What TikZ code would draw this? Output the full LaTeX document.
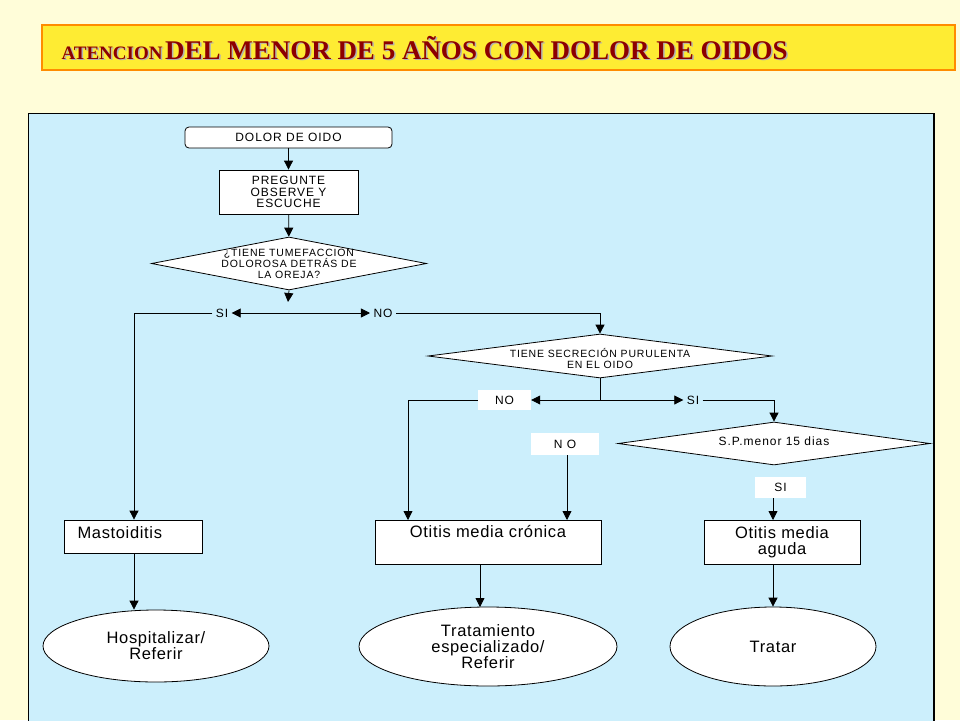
\documentclass[tikz,border=0pt]{standalone}
\usepackage{fontspec}
\setmainfont{Liberation Sans}
\newfontfamily\ttl{Liberation Serif}
\newfontfamily\smf[LetterSpace=8]{Liberation Sans}
\newfontfamily\bgf[LetterSpace=4]{Liberation Sans}
\usetikzlibrary{arrows.meta,shapes.geometric}
\begin{document}
\begin{tikzpicture}[x=1pt,y=-1pt,
  ln/.style={draw=black,line width=0.8pt},
  ar/.style={ln,-{Triangle[length=9pt,width=9pt]}},
  box/.style={draw=black,fill=white,line width=0.8pt,inner sep=0pt},
  sm/.style={font=\smf\fontsize{12}{11.5}\selectfont,align=center},
  big/.style={font=\bgf\fontsize{16.5}{16}\selectfont,align=center},
  lbl/.style={fill=white,inner sep=0pt,font=\smf\fontsize{12}{11.5}\selectfont}]
\useasboundingbox (0,0) rectangle (960,720);
\fill[yellow!15!white] (0,0) rectangle (960,720);
\draw[fill=yellow!90!orange!80!white,draw=orange!90!yellow,line width=2pt] (42,25) rectangle (955,70);
\node[anchor=west,text=gray!60,font=\ttl\bfseries] at (59.5,49.5) {{\fontsize{19}{20}\selectfont ATENCION} {\fontsize{27}{28}\selectfont DEL MENOR DE 5 AÑOS CON DOLOR DE OIDOS}};
\node[anchor=west,text=red!55!black,font=\ttl\bfseries] (title) at (58,48) {{\fontsize{19}{20}\selectfont ATENCION} {\fontsize{27}{28}\selectfont DEL MENOR DE 5 AÑOS CON DOLOR DE OIDOS}};
\draw[fill=cyan!20!white,draw=black,line width=1pt] (28,113) rectangle (934,722);
\draw[line width=2.5pt] (934,113) -- (934,722);
% nodes
\node[box,rounded corners=4pt,minimum width=207pt,minimum height=21pt,sm] (dolor) at (288.5,137.5) {DOLOR DE OIDO};
\node[box,minimum width=139pt,minimum height=44pt,sm] (preg) at (288.5,192) {PREGUNTE\\OBSERVE Y\\ESCUCHE};
\node[box,diamond,aspect=5.2,minimum width=275pt,minimum height=53pt] (d1) at (289,263.5) {};
\node[sm,font=\smf\fontsize{10.5}{11}\selectfont] at (289,263.5) {¿TIENE TUMEFACCION\\DOLOROSA DETRÁS DE\\LA OREJA?};
\node[box,diamond,aspect=7.8,minimum width=344pt,minimum height=44pt] (d2) at (600,356) {};
\node[sm,font=\smf\fontsize{10.5}{11}\selectfont] at (600,358) {TIENE SECRECIÓN PURULENTA\\EN EL OIDO};
\node[box,diamond,aspect=7.2,minimum width=312pt,minimum height=43pt] (d3) at (774,443.5) {};
\node[sm] at (774,441) {S.P.menor 15 dias};
\node[box,minimum width=138pt,minimum height=33pt] (mast) at (133,536.5) {};
\node[big,anchor=north west] at (74,523) {Mastoiditis};
\node[box,minimum width=226pt,minimum height=44pt] (cron) at (488,542) {};
\node[big,anchor=north] at (488,522) {Otitis media crónica};
\node[box,minimum width=156pt,minimum height=44pt,big] (agu) at (782,542) {Otitis media\\aguda};
\node[box,ellipse,minimum width=226pt,minimum height=72pt,big] (hosp) at (156,646) {Hospitalizar/\\Referir};
\node[box,ellipse,minimum width=258pt,minimum height=79pt,big] (trat) at (488,646.5) {Tratamiento\\especializado/\\Referir};
\node[box,ellipse,minimum width=206pt,minimum height=79pt,big] (tr) at (773,646.5) {Tratar};
% labels
\node[sm] (si1) at (222,313) {SI};
\node[sm] (no1) at (383,313) {NO};
\node[lbl,minimum width=53pt,minimum height=20pt] (no2) at (504.5,400) {NO};
\node[sm] (si2) at (693,400) {SI};
\node[lbl,minimum width=68pt,minimum height=22pt] (no3) at (565,444) {N O};
\node[lbl,minimum width=51pt,minimum height=21pt] (si3) at (780.5,487.5) {SI};
\coordinate (j1) at (288,313);
\coordinate (j2) at (600,400);
% connectors
\draw[ar] (dolor) -- (preg);
\draw[ar] (preg) -- (d1);
\draw[ar] (d1.south) -- (288,302);
\draw[ar] (j1) -- (si1.east);
\draw[ar] (j1) -- (no1.west);
\draw[ar] (si1.west) -| (mast.north -| 134,0);
\draw[ar] (no1.east) -| (d2.north);
\draw[ln] (d2.south) -- (j2);
\draw[ar] (j2) -- (no2.east);
\draw[ar] (j2) -- (si2.west);
\draw[ar] (no2.west) -| (408,520);
\draw[ar] (si2.east) -| (d3.north);
\draw[ar] (no3.south -| 567,0) -- (567,520);
\draw[ar] (si3.south -| 773,0) -- (773,520);
\draw[ar] (134,553) -- (hosp.north -| 134,0);
\draw[ar] (480,564) -- (480,607);
\draw[ar] (773,564) -- (tr.north);
\end{tikzpicture}
\end{document}
